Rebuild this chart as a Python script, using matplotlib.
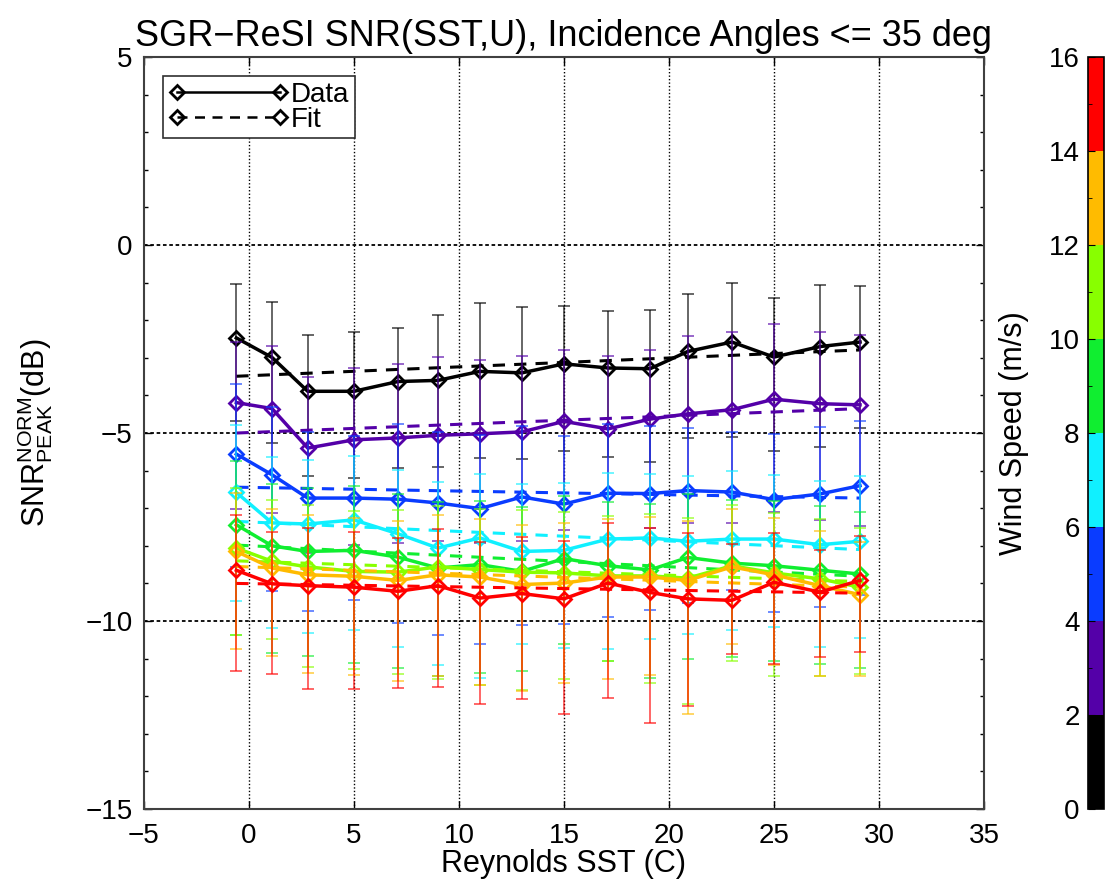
import numpy as np
import matplotlib
matplotlib.use('Agg')
import matplotlib.pyplot as plt
from matplotlib.colors import ListedColormap, BoundaryNorm
from matplotlib.lines import Line2D
import matplotlib.colorbar as mcolorbar

plt.rcParams['font.family'] = ['Liberation Sans', 'DejaVu Sans']
plt.rcParams['mathtext.default'] = 'regular'

# SST bin centres (C)
sst = [-0.6, 1.1, 2.8, 5.0, 7.1, 9.0, 11.0, 13.0, 15.0, 17.1, 19.1, 20.9, 23.0, 25.0, 27.2, 29.1]

# wind speed bins (m/s) and their colours
wind_edges = [0, 2, 4, 6, 8, 10, 12, 14, 16]
colors = ['#000000', '#5400a8', '#0a3cff', '#10f0ff', '#10ee30', '#88ff00', '#ffbb00', '#ff0000']

# SNR peak per bin (dB), one list per wind bin
snr_0_2 = [-2.47, -2.99, -3.89, -3.89, -3.63, -3.60, -3.36, -3.40, -3.16, -3.27, -3.29, -2.83, -2.58, -2.98, -2.70, -2.58]
snr_2_4 = [-4.19, -4.35, -5.40, -5.18, -5.13, -5.06, -5.02, -4.97, -4.69, -4.89, -4.63, -4.49, -4.38, -4.10, -4.22, -4.25]
snr_4_6 = [-5.56, -6.11, -6.73, -6.73, -6.76, -6.86, -7.01, -6.70, -6.89, -6.60, -6.61, -6.53, -6.57, -6.77, -6.62, -6.40]
snr_6_8 = [-6.58, -7.39, -7.42, -7.31, -7.68, -8.06, -7.79, -8.15, -8.12, -7.82, -7.79, -7.88, -7.82, -7.82, -7.97, -7.88]
snr_8_10 = [-7.44, -8.00, -8.15, -8.12, -8.30, -8.59, -8.50, -8.68, -8.34, -8.53, -8.64, -8.31, -8.46, -8.53, -8.65, -8.75]
snr_10_12 = [-8.06, -8.41, -8.56, -8.68, -8.70, -8.56, -8.63, -8.70, -8.72, -8.80, -8.80, -8.86, -8.53, -8.72, -8.88, -9.10]
snr_12_14 = [-8.15, -8.59, -8.77, -8.81, -8.92, -8.77, -8.83, -9.03, -8.99, -8.83, -8.83, -8.92, -8.56, -8.77, -9.06, -9.30]
snr_14_16 = [-8.65, -9.01, -9.06, -9.10, -9.21, -9.06, -9.39, -9.27, -9.41, -8.99, -9.24, -9.41, -9.45, -8.97, -9.23, -8.92]

# upper / lower error bar lengths (dB)
hi_0_2 = [1.44, 1.47, 1.49, 1.59, 1.42, 1.75, 1.82, 1.74, 1.55, 1.52, 1.57, 1.52, 1.58, 1.57, 1.65, 1.48]
lo_0_2 = [2.22, 2.28, 2.26, 2.30, 2.30, 2.30, 2.30, 2.30, 2.33, 2.38, 2.49, 2.30, 2.53, 2.49, 2.66, 2.29]
hi_2_4 = [1.60, 1.67, 1.89, 1.90, 1.97, 2.07, 1.97, 2.01, 1.89, 1.95, 1.83, 2.06, 2.08, 2.00, 1.90, 1.86]
lo_2_4 = [2.83, 2.78, 2.80, 2.80, 2.80, 2.80, 2.90, 2.90, 2.90, 2.90, 2.90, 2.90, 3.00, 3.00, 3.10, 3.23]
hi_4_6 = [1.87, 1.80, 1.76, 1.66, 2.00, 1.90, 1.95, 1.88, 1.80, 1.85, 1.80, 1.66, 1.60, 1.75, 1.78, 1.71]
lo_4_6 = [3.00, 3.10, 3.00, 2.70, 3.30, 3.50, 3.60, 3.40, 3.20, 3.30, 3.10, 3.00, 2.60, 3.00, 3.00, 2.90]
hi_6_8 = [1.80, 1.75, 1.71, 1.70, 1.70, 1.75, 1.70, 1.80, 1.80, 1.75, 1.70, 1.75, 1.80, 1.70, 1.70, 1.75]
lo_6_8 = [2.90, 2.80, 2.90, 2.92, 3.00, 3.12, 3.72, 2.47, 2.60, 2.92, 2.69, 2.47, 2.42, 2.35, 2.71, 2.58]
hi_8_10 = [1.70, 1.65, 1.70, 1.72, 1.68, 1.75, 1.70, 1.72, 1.66, 1.70, 1.75, 1.70, 1.68, 1.72, 1.70, 1.65]
lo_8_10 = [2.92, 2.85, 2.79, 3.00, 2.94, 2.88, 2.89, 2.65, 2.28, 2.53, 2.87, 2.69, 2.51, 2.54, 2.50, 2.49]
hi_10_12 = [1.60, 1.62, 1.65, 1.60, 1.66, 1.62, 1.60, 1.65, 1.62, 1.60, 1.64, 1.60, 1.62, 1.60, 1.60, 1.58]
lo_10_12 = [2.30, 2.07, 2.65, 2.59, 2.72, 2.98, 3.08, 3.14, 2.83, 2.26, 2.86, 3.34, 2.54, 2.73, 2.57, 2.32]
hi_12_14 = [1.55, 1.58, 1.60, 1.55, 1.58, 1.60, 1.55, 1.58, 1.60, 1.55, 1.60, 1.58, 1.55, 1.50, 1.45, 1.40]
lo_12_14 = [2.59, 2.35, 2.60, 2.62, 2.67, 2.70, 2.86, 2.83, 2.67, 2.70, 2.60, 3.54, 2.06, 2.40, 2.39, 2.15]
hi_14_16 = [1.48, 1.39, 1.53, 1.48, 1.42, 1.50, 1.50, 1.50, 1.55, 1.60, 1.71, 1.75, 1.50, 1.31, 1.11, 1.17]
lo_14_16 = [2.68, 2.41, 2.75, 2.71, 2.57, 2.70, 2.81, 2.81, 3.07, 3.07, 3.46, 2.85, 1.44, 2.16, 1.72, 1.91]

# linear fit values at first and last SST bin
fit_start = [-3.49, -5.00, -6.44, -7.35, -7.98, -8.40, -8.55, -9.00]
fit_end = [-2.79, -4.35, -6.73, -8.10, -8.81, -8.95, -9.10, -9.26]

snr = [snr_0_2, snr_2_4, snr_4_6, snr_6_8, snr_8_10, snr_10_12, snr_12_14, snr_14_16]
err_hi = [hi_0_2, hi_2_4, hi_4_6, hi_6_8, hi_8_10, hi_10_12, hi_12_14, hi_14_16]
err_lo = [lo_0_2, lo_2_4, lo_4_6, lo_6_8, lo_8_10, lo_10_12, lo_12_14, lo_14_16]

fig = plt.figure(figsize=(11.09, 8.90), dpi=100)
ax = fig.add_axes([0.1298, 0.0910, 0.7574, 0.8449])

for i in range(len(snr)):
    c = colors[i]
    ax.errorbar(sst, snr[i], yerr=[err_lo[i], err_hi[i]], fmt='none', ecolor=c,
                elinewidth=1.4, capsize=4, capthick=1.4, alpha=0.6, zorder=2 + i)
    ax.plot(sst, snr[i], '-', color=c, lw=2.5, marker='D', ms=7, mfc='none',
            mec=c, mew=2, zorder=3 + i)
    ax.plot([sst[0], sst[-1]], [fit_start[i], fit_end[i]], '--', color=c,
            lw=2.2, dashes=(4, 3), zorder=3 + i)

ax.set_xlim(-5, 35)
ax.set_ylim(-15, 5)
ax.set_xticks(np.arange(-5, 36, 5))
ax.set_yticks(np.arange(-15, 6, 5))
ax.set_yticks(np.arange(-15, 6, 1), minor=True)
ax.set_xticklabels(['\u22125', '0', '5', '10', '15', '20', '25', '30', '35'])
ax.set_yticklabels(['\u221215', '\u221210', '\u22125', '0', '5'])
ax.tick_params(which='both', direction='in', top=True, right=True, labelsize=20)
ax.tick_params(axis='x', pad=10)
ax.tick_params(axis='y', pad=8)
ax.tick_params(which='major', length=6, width=1)
ax.tick_params(which='minor', length=3, width=1)

# grid lines at the inner ticks only
for gx in range(0, 31, 5):
    ax.axvline(gx, color='black', lw=1, ls=(0, (1, 1.5)), zorder=1)
for gy in [0, -5, -10]:
    ax.axhline(gy, color='black', lw=1.3, ls=(0, (2, 1.5)), zorder=1)

for s in ax.spines.values():
    s.set_color('#404040')
    s.set_linewidth(1.5)

ax.set_title('SGR\u2212ReSI SNR(SST,U), Incidence Angles <= 35 deg', fontsize=26, pad=8)
ax.set_xlabel('Reynolds SST (C)', fontsize=22, labelpad=0)
ax.set_ylabel(r'SNR$_{PEAK}^{NORM}$(dB)', fontsize=22, labelpad=22)

h_data = Line2D([], [], color='black', lw=1.8, marker='D', ms=7, mfc='none', mew=2)
h_fit = Line2D([], [], color='black', lw=1.8, ls='--', dashes=(4, 3), marker='D',
               ms=7, mfc='none', mew=2)
leg = ax.legend([h_data, h_fit], ['Data', 'Fit'], loc='upper left', numpoints=2,
                fontsize=20, handlelength=4.3, handletextpad=0.1, labelspacing=-0.05,
                borderpad=0.2, borderaxespad=0.7, fancybox=False, framealpha=1,
                edgecolor='#303030')
leg.get_frame().set_linewidth(1.2)

# wind speed colour bar
cax = fig.add_axes([0.9811, 0.0910, 0.0144, 0.8449])
cmap = ListedColormap(colors)
norm = BoundaryNorm(wind_edges, cmap.N)
cb = mcolorbar.ColorbarBase(cax, cmap=cmap, norm=norm, ticks=wind_edges)
cb.outline.set_linewidth(1.2)
cax.yaxis.set_ticks_position('left')
cax.yaxis.set_label_position('left')
cax.set_yticks(np.arange(1, 16, 2), minor=True)
cax.tick_params(which='both', direction='in', labelsize=20, pad=6)
cax.tick_params(which='major', length=5)
cax.tick_params(which='minor', length=3)
cax.set_ylabel('Wind Speed (m/s)', fontsize=22, labelpad=14)

fig.savefig('out.png', dpi=100)
